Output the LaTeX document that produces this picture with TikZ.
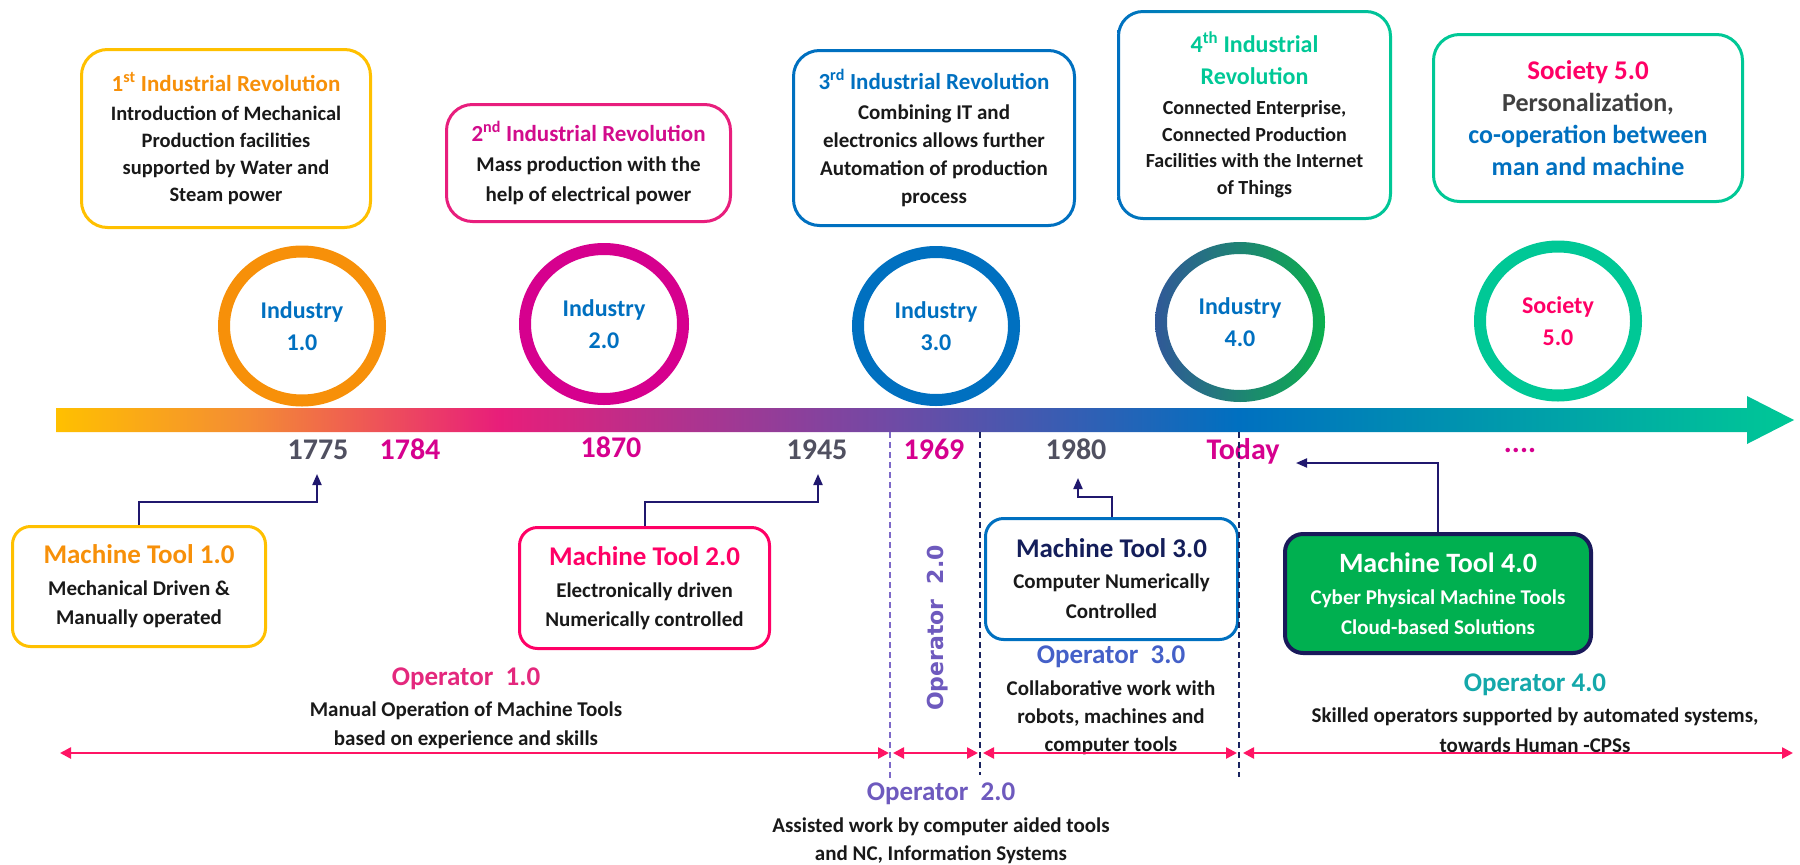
\documentclass[tikz,border=0pt]{standalone}
\usepackage{fontspec}
\setmainfont{Carlito}
\newfontfamily\verdfont{DejaVu Sans}
\usetikzlibrary{arrows.meta,shapes.geometric}

\newcommand\pxfont[2]{\fontsize{#1}{#2}\selectfont\bfseries}

\definecolor{gold}{RGB}{255,192,0}
\definecolor{amber}{RGB}{247,144,9}
\definecolor{magentaY}{RGB}{214,0,142}
\definecolor{rosebox}{RGB}{232,30,125}
\definecolor{rosetitle}{RGB}{210,12,140}
\definecolor{azure}{RGB}{0,112,192}
\definecolor{mint}{RGB}{0,200,150}
\definecolor{hotpink}{RGB}{255,0,102}
\definecolor{ink}{RGB}{25,25,25}
\definecolor{graytext}{RGB}{64,64,64}
\definecolor{yeargray}{RGB}{80,80,96}
\definecolor{linknavy}{RGB}{32,24,110}
\definecolor{lavender}{RGB}{125,105,200}
\definecolor{opone}{RGB}{228,40,125}
\definecolor{optwo}{RGB}{110,90,190}
\definecolor{opthree}{RGB}{68,96,200}
\definecolor{opfour}{RGB}{20,168,170}
\definecolor{spanpink}{RGB}{255,20,100}
\definecolor{eranavy}{RGB}{25,35,95}
\definecolor{toolnavy}{RGB}{20,30,90}
\definecolor{leaf}{RGB}{0,176,80}
\definecolor{leafedge}{RGB}{25,25,90}
\definecolor{barA}{RGB}{255,192,0}
\definecolor{barB}{RGB}{244,140,52}
\definecolor{barC}{RGB}{232,30,122}
\definecolor{barD}{RGB}{112,74,165}
\definecolor{barE}{RGB}{0,112,192}
\definecolor{barF}{RGB}{0,200,150}
\definecolor{ringL}{RGB}{48,88,152}
\definecolor{ringR}{RGB}{12,176,78}

% colour run of the time line, yellow through pink, purple and blue to green
\pgfdeclarehorizontalshading{timebar}{100bp}{%
  color(0bp)=(barA); color(25bp)=(barA); color(30.5bp)=(barB);
  color(37.75bp)=(barC); color(49bp)=(barD); color(59bp)=(barE);
  color(75bp)=(barF); color(100bp)=(barF)}

\tikzset{
  topbox/.style={draw, rounded corners=26pt, line width=3pt, inner sep=0pt,
    align=center, text=ink, font=\pxfont{20.5}{27}},
  toolbox/.style={draw, rounded corners=18pt, line width=3pt, inner sep=0pt,
    align=center, text=ink, font=\pxfont{21}{29}},
  ring/.style={ellipse, line width=12pt, inner sep=0pt, align=center,
    text=azure, font=\pxfont{24}{32}, minimum width=156pt, minimum height=149pt},
  year/.style={anchor=base, inner sep=0pt, font=\pxfont{30}{36}},
  link/.style={draw=linknavy, line width=2pt, -{Triangle[length=11pt,width=9pt]}},
  span/.style={draw=spanpink, line width=2.5pt,
    {Triangle[length=11pt,width=11pt]}-{Triangle[length=11pt,width=11pt]}},
  era/.style={line width=1.5pt, dash pattern=on 6pt off 4pt},
  optext/.style={align=center, inner sep=0pt, text=ink},
}

\begin{document}
\begin{tikzpicture}[x=1pt,y=-1pt]
\useasboundingbox (0,0) rectangle (1800,865);
\fill[white] (0,0) rectangle (1800,865);

% ---------- revolutions ----------
\node[topbox, draw=gold, minimum width=289pt, minimum height=178pt] (b1) at (226,138.5)
  {{\pxfont{23}{29}\color{amber}1\textsuperscript{st} Industrial Revolution}\\[2pt]
   Introduction of Mechanical\\ Production facilities\\ supported by Water and\\ Steam power};
\node[topbox, draw=rosebox, font=\pxfont{21}{30}, minimum width=284pt, minimum height=117pt] (b2) at (588.5,163)
  {{\pxfont{23}{30}\color{rosetitle}2\textsuperscript{nd} Industrial Revolution}\\
   Mass production with the\\ help of electrical power};
\node[topbox, draw=azure, font=\pxfont{21}{28}, minimum width=281pt, minimum height=175pt] (b3) at (934,138)
  {{\pxfont{23}{28}\color{azure}3\textsuperscript{rd} Industrial Revolution}\\[2pt]
   Combining IT and\\ electronics allows further\\ Automation of production\\ process};
% border of the fourth box runs from blue into green
\shade[left color=azure, right color=mint, even odd rule]
  [rounded corners=26pt] (1117,10) rectangle (1392,220)
  [rounded corners=23pt] (1120,13) rectangle (1389,217);
\node[topbox, draw=none, font=\pxfont{20}{26.5}, minimum width=272pt, minimum height=207pt] (b4) at (1254.5,115)
  {{\pxfont{24}{32}\color{mint}4\textsuperscript{th} Industrial}\\[5.5pt]
   {\pxfont{24}{32}\color{mint}Revolution}\\[3.5pt]
   Connected Enterprise,\\ Connected Production\\ Facilities with the Internet\\ of Things};
\node[topbox, draw=mint, font=\pxfont{26}{32}, minimum width=309pt, minimum height=167pt] (b5) at (1588,118)
  {{\color{hotpink}\pxfont{27}{32}Society 5.0}\\
   {\color{graytext}Personalization,}\\
   {\color{azure}co-operation between}\\ {\color{azure}man and machine}};

% ---------- eras on the time line ----------
\node[ring, draw=amber] (i1) at (302,326) {Industry\\1.0};
\node[ring, draw=magentaY, minimum width=158pt, minimum height=150pt] (i2) at (604,324) {Industry\\2.0};
\node[ring, draw=azure, minimum height=148pt] (i3) at (936,326) {Industry\\3.0};
\shade[left color=ringL, right color=ringR, even odd rule]
  (1240,322) ellipse [x radius=85, y radius=80]
  (1240,322) ellipse [x radius=73, y radius=68];
\node[ring, minimum height=148pt] (i4) at (1240,322) {Industry\\4.0};
\node[ring, draw=mint, text=hotpink] (i5) at (1558,321) {Society\\5.0};

% ---------- time line ----------
\shade[shading=timebar] (56,408) -- (1747,408) -- (1747,396) -- (1794,420)
  -- (1747,444) -- (1747,432) -- (56,432) -- cycle;

\node[year, text=yeargray] (y1775) at (318,459) {1775};
\node[year, text=magentaY] (y1784) at (410,459) {1784};
\node[year, text=magentaY] (y1870) at (611,457) {1870};
\node[year, text=yeargray] (y1945) at (817,459) {1945};
\node[year, text=magentaY] (y1969) at (934,459) {1969};
\node[year, text=yeargray] (y1980) at (1076,459) {1980};
\node[year, text=magentaY] (ytoday) at (1243,459) {Today};
\node[year, text=magentaY] (ynext) at (1520,452) {....};

% ---------- machine tools ----------
\node[toolbox, draw=gold, minimum width=253pt, minimum height=120pt] (mt1) at (139,586.5)
  {{\pxfont{27}{32}\color{amber}Machine Tool 1.0}\\[3pt] Mechanical Driven \&\\ Manually operated};
\node[toolbox, draw=hotpink, minimum width=250pt, minimum height=121pt] (mt2) at (644.5,588)
  {{\pxfont{27}{32}\color{hotpink}Machine Tool 2.0}\\[3pt] Electronically driven\\ Numerically controlled};
\node[toolbox, draw=azure, minimum width=252pt, minimum height=121pt, font=\pxfont{21}{30}] (mt3) at (1111.5,579)
  {{\pxfont{27}{32}\color{toolnavy}Machine Tool 3.0}\\[1pt] Computer Numerically\\ Controlled};
\node[toolbox, draw=leafedge, fill=leaf, line width=4pt, text=white, font=\pxfont{21}{30},
  minimum width=306pt, minimum height=119pt] (mt4) at (1438,593.5)
  {{\pxfont{28}{32}Machine Tool 4.0}\\[2pt] Cyber Physical Machine Tools\\ Cloud-based Solutions};

\coordinate (t1775) at (317,474);
\coordinate (t1945) at (818,474);
\coordinate (t1980) at (1078,478);
\coordinate (tToday) at (1296,463);
\draw[link] (mt1.north) -- ++(0,-23) -| (t1775);
\draw[link] (mt2.north) -- ++(0,-24) -| (t1945);
\draw[link] (mt3.north) -- ++(0,-20) -| (t1980);
\draw[link] (mt4.north) |- (tToday);

% ---------- operators ----------
\node[optext, font=\pxfont{21}{29}] (op1) at (466,708)
  {{\pxfont{27}{32}\color{opone}Operator\ \ 1.0}\\[2pt]
   Manual Operation of Machine Tools\\ based on experience and skills};
\node[optext, rotate=90, text=optwo, font=\verdfont\bfseries\fontsize{22}{26}\selectfont] (op2v) at (938,628)
  {Operator\ \ 2.0};
\node[optext, font=\pxfont{21}{28}] (op2) at (941,823)
  {{\pxfont{27}{32}\color{optwo}Operator\ \ 2.0}\\[4pt]
   Assisted work by computer aided tools\\ and NC, Information Systems};
\node[optext, font=\pxfont{21}{28}] (op3) at (1111,700)
  {{\pxfont{27}{32}\color{opthree}Operator\ \ 3.0}\\[4pt]
   Collaborative work with\\ robots, machines and\\ computer tools};
\node[optext, font=\pxfont{21}{30}] (op4) at (1535,713)
  {{\pxfont{27}{32}\color{opfour}Operator 4.0}\\[1pt]
   Skilled operators supported by automated systems,\\ towards Human -CPSs};

% era borders below the time line
\coordinate (e1t) at (890,432);  \coordinate (e1b) at (890,780);
\coordinate (e2t) at (980,432);  \coordinate (e2b) at (980,775);
\coordinate (e3t) at (1239,432); \coordinate (e3b) at (1239,777);
\draw[era, draw=lavender] (e1t) -- (e1b);
\draw[era, draw=eranavy] (e2t) -- (e2b);
\draw[era, draw=eranavy] (e3t) -- (e3b);

% spans of the operator generations
\coordinate (s0) at (60,753);
\coordinate (s1a) at (889,753);  \coordinate (s1b) at (893,753);
\coordinate (s2a) at (978,753);  \coordinate (s2b) at (983,753);
\coordinate (s3a) at (1237,753); \coordinate (s3b) at (1243,753);
\coordinate (s4) at (1793,753);
\draw[span] (s0) -- (s1a);
\draw[span] (s1b) -- (s2a);
\draw[span] (s2b) -- (s3a);
\draw[span] (s3b) -- (s4);
\end{tikzpicture}
\end{document}
